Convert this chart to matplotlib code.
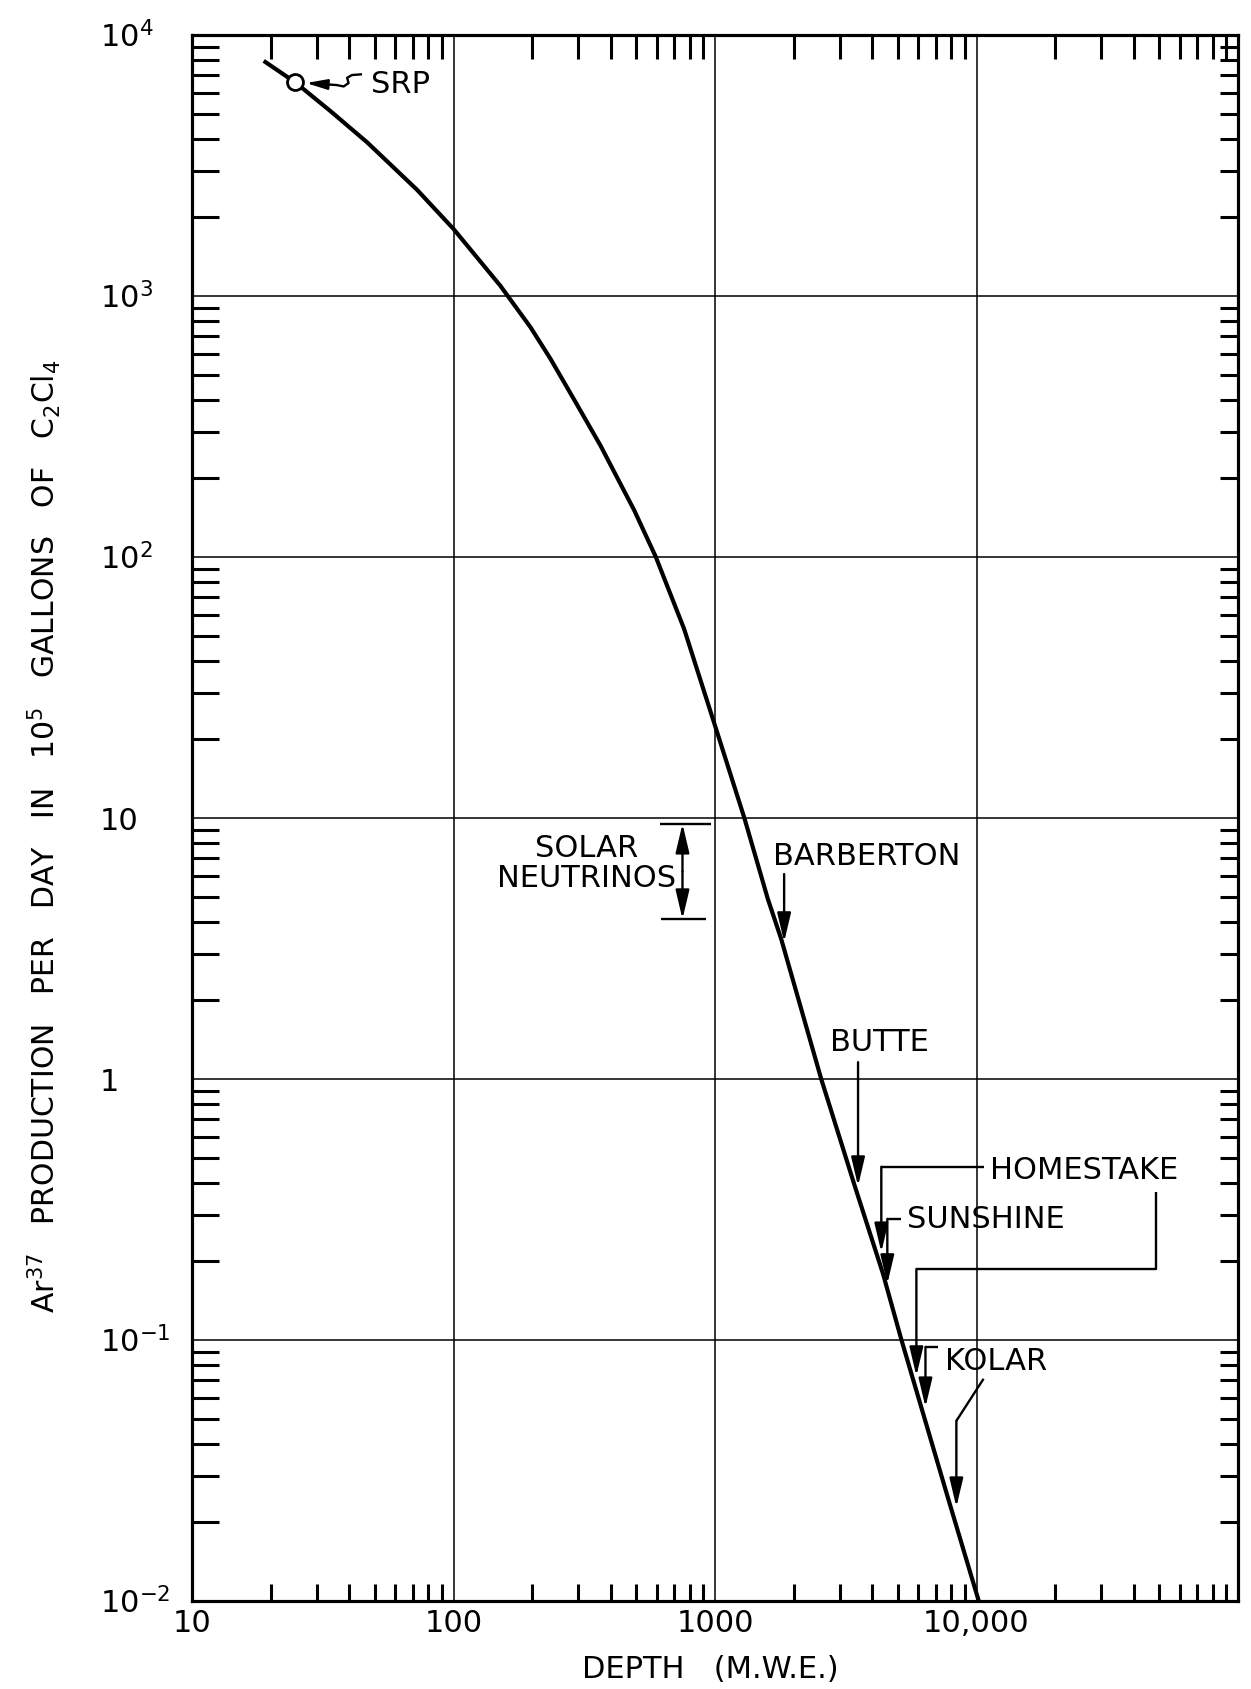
import numpy as np
import matplotlib
matplotlib.use("Agg")
import matplotlib.pyplot as plt
from matplotlib.ticker import FixedLocator, FixedFormatter, LogLocator, NullFormatter
from matplotlib.transforms import ScaledTranslation

plt.rcParams["font.family"] = ["DejaVu Sans"]
plt.rcParams["mathtext.default"] = "regular"

# ---------------- data ----------------
depth_mwe = [18.8, 24.8, 33.8, 46.7, 72.6, 100, 151, 197, 235, 293, 365, 491,
             594, 762, 1000, 1295, 1592, 1791, 2548, 3421, 4385, 5165, 7800, 10200]
ar37_per_day = [7960, 6590, 5115, 3883, 2550, 1807, 1095, 759, 574, 392, 267, 151,
                100, 53, 22.6, 10, 4.9, 3.44, 1.0, 0.39, 0.18, 0.1, 0.0246, 0.01]

srp_depth = [24.8]
srp_rate = [6590]

solar_nu_depth = 751
solar_nu_range = [4.1, 9.5]

x_ticks = [10, 100, 1000, 10000]
x_tick_labels = ["10", "100", "1000", "10,000"]
y_ticks = [1e-2, 1e-1, 1, 10, 1e2, 1e3, 1e4]
y_tick_labels = ["10$^{-2}$", "10$^{-1}$", "1", "10", "10$^{2}$", "10$^{3}$", "10$^{4}$"]

# ---------------- figure ----------------
W, H = 1251, 1690
fig = plt.figure(figsize=(W / 100, H / 100), dpi=100)
fig.patch.set_facecolor("white")
ax = fig.add_axes([192 / W, 1 - 1602 / H, 1046 / W, 1566 / H])
ax.set_xscale("log")
ax.set_yscale("log")
ax.set_xlim(10, 1e5)
ax.set_ylim(1e-2, 1e4)

axr = ax.twinx()
axr.set_yscale("log")
axr.set_ylim(1e-2, 1e4)
axt = ax.twiny()
axt.set_xscale("log")
axt.set_xlim(10, 1e5)

FS = 22
SPW = 2.2
subs = np.arange(2, 10) * 1.0

for a in (ax, axr, axt):
    for s in a.spines.values():
        s.set_linewidth(SPW)
        s.set_color("black")

# bottom / left
ax.xaxis.set_major_locator(FixedLocator(x_ticks))
ax.xaxis.set_major_formatter(FixedFormatter(x_tick_labels))
ax.xaxis.set_minor_locator(LogLocator(base=10, subs=subs, numticks=50))
ax.xaxis.set_minor_formatter(NullFormatter())
ax.yaxis.set_major_locator(FixedLocator(y_ticks))
ax.yaxis.set_minor_locator(LogLocator(base=10, subs=subs, numticks=50))
ax.yaxis.set_minor_formatter(NullFormatter())
ax.tick_params(axis="x", which="major", length=0, pad=5, labelsize=FS)
ax.tick_params(axis="x", which="minor", direction="in", length=12.5, width=SPW, bottom=True, top=False)
ax.tick_params(axis="y", which="major", length=0, labelleft=False)
ax.tick_params(axis="y", which="minor", direction="in", length=19.5, width=SPW, left=True, right=False)
ax.grid(True, which="major", color="black", linewidth=1.1)

# right
axr.yaxis.set_major_locator(FixedLocator(y_ticks))
axr.yaxis.set_minor_locator(LogLocator(base=10, subs=subs, numticks=50))
axr.yaxis.set_minor_formatter(NullFormatter())
axr.tick_params(axis="y", which="major", length=0, labelright=False)
axr.tick_params(axis="y", which="minor", direction="in", length=13, width=SPW)

# top
axt.xaxis.set_major_locator(FixedLocator(x_ticks))
axt.xaxis.set_minor_locator(LogLocator(base=10, subs=subs, numticks=50))
axt.xaxis.set_minor_formatter(NullFormatter())
axt.tick_params(axis="x", which="major", length=0, labeltop=False)
axt.tick_params(axis="x", which="minor", direction="in", length=17, width=SPW)

# y tick labels (left aligned as in the original)
ytrans = ax.get_yaxis_transform() + ScaledTranslation(0, -0.11, fig.dpi_scale_trans)
for v, lab in zip(y_ticks, y_tick_labels):
    ax.text(-0.088, v, lab, transform=ytrans, ha="left", va="baseline", fontsize=FS)

# ---------------- curve ----------------
ax.plot(depth_mwe, ar37_per_day, color="black", lw=3.0, solid_capstyle="butt",
        solid_joinstyle="round", zorder=4)
ax.plot(srp_depth, srp_rate, "o", mfc="white", mec="black", ms=11.5, mew=2.0, zorder=6)

# ---------------- annotations ----------------
LW = 1.7

def arrow(x0, y0, x1, y1, style="-|>", hl=1.1, hw=0.26, ms=16):
    ax.annotate("", xy=(x1, y1), xytext=(x0, y0),
                arrowprops=dict(arrowstyle=f"{style},head_length={hl},head_width={hw}",
                                color="black", lw=LW, shrinkA=0, shrinkB=0,
                                mutation_scale=ms), zorder=5)

def leader(xs, ys):
    ax.plot(xs, ys, color="black", lw=LW, zorder=5, solid_capstyle="butt")

# SRP
ax.text(62.7, 6546, "SRP", ha="center", va="center", fontsize=FS)
arrow(35.8, 6430, 27.3, 6546, hl=0.9, hw=0.22, ms=14)
leader([35.8, 38.0, 39.7, 39.2, 40.9, 44.7], [6430, 6350, 6545, 6855, 7025, 7070])

# Solar neutrinos
ax.text(324, 6.73, "SOLAR\nNEUTRINOS", ha="center", va="center", fontsize=FS, linespacing=1.05)
mid = np.sqrt(solar_nu_range[0] * solar_nu_range[1])
arrow(solar_nu_depth, mid, solar_nu_depth, solar_nu_range[1])
arrow(solar_nu_depth, mid, solar_nu_depth, solar_nu_range[0])
leader([617, 964], [solar_nu_range[1]] * 2)
leader([621, 925], [solar_nu_range[0]] * 2)

# Barberton
ax.text(3818, 7.2, "BARBERTON", ha="center", va="center", fontsize=FS)
arrow(1838, 6.1, 1838, 3.35)

# Butte
ax.text(4246, 1.39, "BUTTE", ha="center", va="center", fontsize=FS)
arrow(3524, 1.16, 3524, 0.389)

# Homestake
ax.text(11220, 0.452, "HOMESTAKE", ha="left", va="center", fontsize=FS)
leader([10640, 4325], [0.461, 0.461])
arrow(4325, 0.461, 4325, 0.217)
leader([48500, 48500, 5890], [0.369, 0.187, 0.187])
arrow(5890, 0.187, 5890, 0.0728)

# Sunshine
ax.text(5445, 0.293, "SUNSHINE", ha="left", va="center", fontsize=FS)
leader([5165, 4560], [0.291, 0.291])
arrow(4560, 0.291, 4560, 0.164)

# Kolar
ax.text(7600, 0.0832, "KOLAR", ha="left", va="center", fontsize=FS)
leader([7145, 6380], [0.094, 0.094])
arrow(6380, 0.094, 6380, 0.0553)
leader([10640, 8375], [0.071, 0.049])
arrow(8375, 0.049, 8375, 0.0229)

# ---------------- axis titles ----------------
fig.text(44 / W, 1 - 836 / H,
         "Ar$^{37}$   PRODUCTION   PER   DAY   IN   10$^{5}$   GALLONS   OF   C$_{2}$Cl$_{4}$",
         rotation=90, ha="center", va="center", fontsize=21.5)
fig.text(710 / W, 1 - 1670 / H, "DEPTH   (M.W.E.)", ha="center", va="center", fontsize=FS)

fig.savefig("out.png", dpi=100, facecolor="white")
